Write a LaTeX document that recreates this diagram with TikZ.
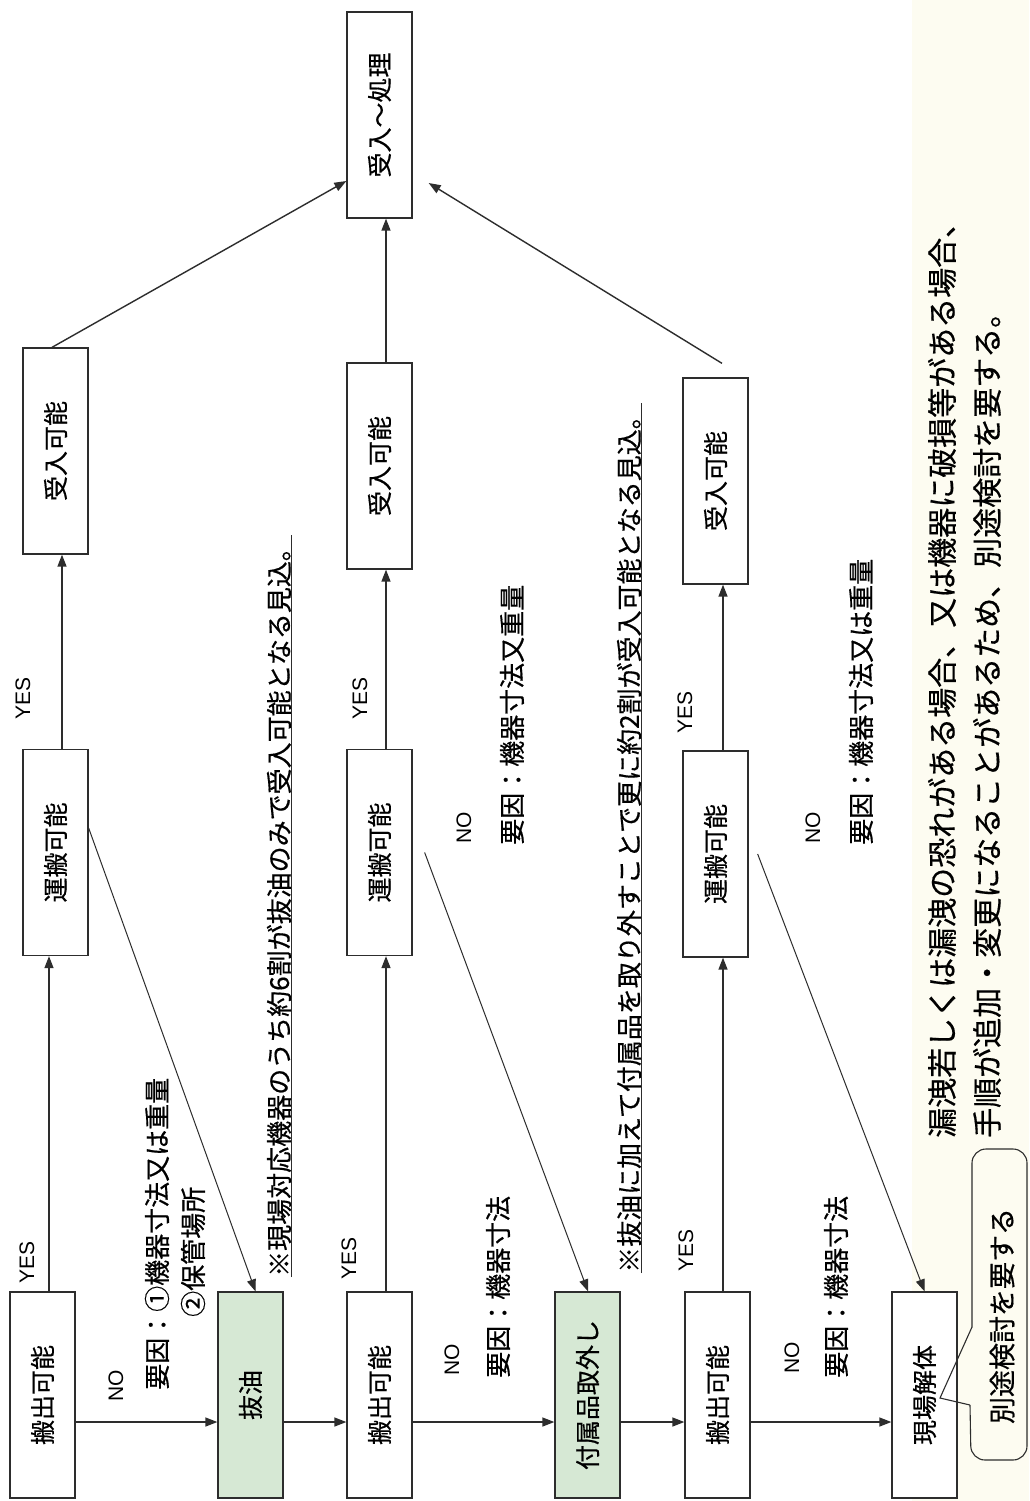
\documentclass[tikz,border=0pt]{standalone}
\usepackage{graphicx}
\usepackage{fontspec}
\setmainfont{Liberation Sans}
\newfontfamily\jp{Noto Sans CJK JP}[FakeBold=0.5]
\usetikzlibrary{arrows.meta}
\definecolor{boxgreen}{RGB}{214,232,212}
\definecolor{cream}{RGB}{253,252,241}
\definecolor{ink}{RGB}{45,45,45}
\newcommand{\rtxt}[1]{\rotatebox{90}{#1}}
\begin{document}
\begin{tikzpicture}[x=1pt,y=-1pt,
  bx/.style={draw=ink, line width=1.3pt, fill=white, minimum width=65pt, minimum height=206pt, inner sep=0pt, font=\jp\fontsize{25}{25}\selectfont},
  gbx/.style={bx, fill=boxgreen},
  lbl/.style={rotate=90, anchor=west, inner sep=0pt, font=\jp\fontsize{26}{26}\selectfont},
  note/.style={rotate=90, anchor=west, inner sep=0pt, font=\jp\fontsize{30}{30}\selectfont},
  yn/.style={rotate=90, inner sep=0pt, font=\fontsize{21}{21}\selectfont},
  arr/.style={-{Triangle[length=12pt,width=9pt]}, line width=1.4pt, draw=ink},
  darr/.style={arr, line width=1pt},
  uline/.style={line width=0.8pt, draw=ink}]
\useasboundingbox (0,0) rectangle (1029,1501);
\fill[white] (0,0) rectangle (1029,1501);
\fill[cream] (912,0) rectangle (1029,1501);

% boxes
\node[bx]  (A1) at (42.5,1395)  {\rtxt{搬出可能}};
\node[bx]  (B1) at (55.5,852.5) {\rtxt{運搬可能}};
\node[bx]  (C1) at (55.5,451)   {\rtxt{受入可能}};
\node[bx]  (D)  at (379.5,115)  {\rtxt{受入〜処理}};
\node[gbx] (O)  at (250.5,1395) {\rtxt{抜油}};
\node[bx]  (A2) at (379.5,1395) {\rtxt{搬出可能}};
\node[bx]  (B2) at (379.5,852.5){\rtxt{運搬可能}};
\node[bx]  (C2) at (379.5,466)  {\rtxt{受入可能}};
\node[gbx] (G)  at (587.5,1395) {\rtxt{付属品取外し}};
\node[bx]  (A3) at (717.5,1395) {\rtxt{搬出可能}};
\node[bx]  (B3) at (715.5,854)  {\rtxt{運搬可能}};
\node[bx]  (C3) at (715.5,481)  {\rtxt{受入可能}};
\node[bx]  (K)  at (924.5,1395) {\rtxt{現場解体}};

% horizontal NO arrows
\draw[arr] ([yshift=-27pt]A1.east) -- ([yshift=-27pt]O.west);
\draw[arr] ([yshift=-27pt]O.east)  -- ([yshift=-27pt]A2.west);
\draw[arr] ([yshift=-27pt]A2.east) -- ([yshift=-27pt]G.west);
\draw[arr] ([yshift=-27pt]G.east)  -- ([yshift=-27pt]A3.west);
\draw[arr] ([yshift=-27pt]A3.east) -- ([yshift=-27pt]K.west);

% vertical YES arrows
\draw[arr] ([xshift=6.5pt]A1.north) -- ([xshift=-6.5pt]B1.south);
\draw[arr] ([xshift=6.5pt]B1.north) -- ([xshift=6.5pt]C1.south);
\draw[arr] ([xshift=6.5pt]A2.north) -- ([xshift=6.5pt]B2.south);
\draw[arr] ([xshift=6.5pt]B2.north) -- ([xshift=6.5pt]C2.south);
\draw[arr] ([xshift=6.5pt]C2.north) -- ([xshift=6.5pt]D.south);
\draw[arr] ([xshift=5.5pt]A3.north) -- ([xshift=7.5pt]B3.south);
\draw[arr] ([xshift=7.5pt]B3.north) -- ([xshift=7.5pt]C3.south);

% to final box
\draw[arr] ([xshift=-3.5pt]C1.north) -- ([yshift=-66pt]D.west);
\draw[arr] ([xshift=6.5pt,yshift=14pt]C3.north) -- ([xshift=16pt,yshift=-68pt]D.east);

% diagonal NO arrows
\draw[darr] ([yshift=24.5pt]B1.east) -- ([xshift=5pt]O.north);
\draw[darr] ([xshift=12pt]B2.east) -- ([xshift=0.5pt]G.north);
\draw[darr] ([xshift=9pt]B3.east) -- (K.north);

% YES / NO labels
\node[yn] (y1a) at (27,1262)  {YES};
\node[yn] (n1)  at (116,1386) {NO};
\node[yn] (y2a) at (349,1258) {YES};
\node[yn] (n2)  at (452,1360) {NO};
\node[yn] (y3a) at (686,1250) {YES};
\node[yn] (n3)  at (792,1358) {NO};
\node[yn] (y1b) at (23,698)   {YES};
\node[yn] (y2b) at (360,698)  {YES};
\node[yn] (y3b) at (685,712)  {YES};
\node[yn] (n2b) at (464,828)  {NO};
\node[yn] (n3b) at (813,828)  {NO};

% reason labels
\node[lbl] (r1a) at (157,1390) {要因：①機器寸法又は重量};
\node[lbl] (r1b) at (193,1317) {②保管場所};
\node[lbl] (r2)  at (498,1378) {要因：機器寸法};
\node[lbl] (r3)  at (836,1378) {要因：機器寸法};
\node[lbl] (r2b) at (512,845)  {要因：機器寸法又重量};
\node[lbl] (r3b) at (861,845)  {要因：機器寸法又は重量};

% underlined notes
\node[lbl] (u1) at (279,1277) {※現場対応機器のうち約6割が抜油のみで受入可能となる見込。};
\draw[uline] (u1.south west) -- (u1.south east);
\node[lbl] (u2) at (629,1273) {※抜油に加えて付属品を取り外すことで更に約2割が受入可能となる見込。};
\draw[uline] (u2.south west) -- (u2.south east);

% big note
\node[note] (m1) at (942,1138) {漏洩若しくは漏洩の恐れがある場合、又は機器に破損等がある場合、};
\node[note] (m2) at (987,1138) {手順が追加・変更になることがあるため、別途検討を要する。};

% callout
\node[inner sep=0pt, font=\jp\fontsize{27}{27}\selectfont] (cl) at (1002,1316) {\rtxt{別途検討を要する}};
\coordinate (tip) at (940,1398);
\draw[line width=1.1pt, draw=ink, rounded corners=14pt] (972,1327) -- (972,1149) -- (1027,1149) -- (1027,1460) -- (971,1460) -- (970,1405);
\draw[line width=1.1pt, draw=ink] (972,1327) -- (tip) -- (970,1405);
\end{tikzpicture}
\end{document}
